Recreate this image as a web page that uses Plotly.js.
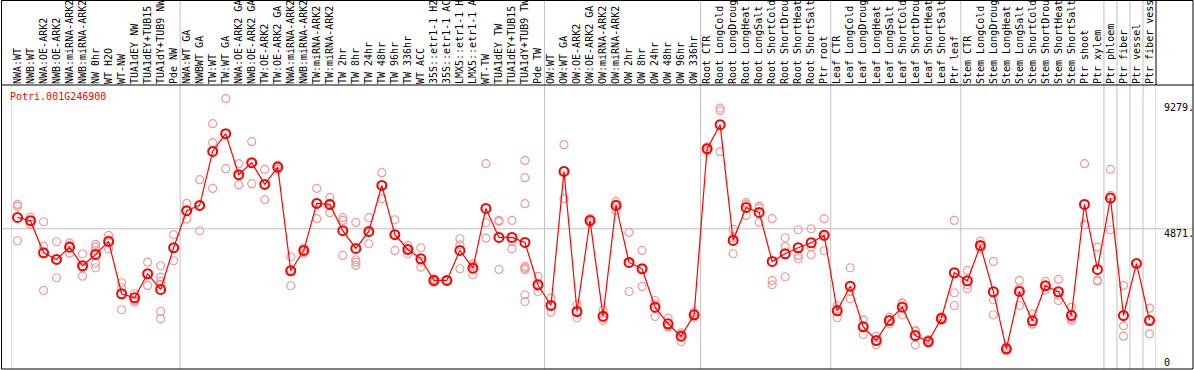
<!DOCTYPE html>
<html>
<head>
<meta charset="utf-8">
<script src="https://cdn.plot.ly/plotly-3.0.1.min.js"></script>
<style>html,body{margin:0;padding:0;background:#fff;}#chart{width:1194px;height:370px;}</style>
</head>
<body>
<div id="chart"></div>
<script>
var chartTitle = "Potri.001G246900";

// category labels as printed (the source truncates them to 14 characters)
var categories = [
  "NWA:WT","NWB:WT","NWA:OE-ARK2","NWB:OE-ARK2","NWA:miRNA-ARK2","NWB:miRNA-ARK2","NW 0hr","WT H2O","WT-NW","TUA1dEY NW","TUA1dEY+TUB15","TUA1dY+TUB9 NW","Pde NW",
  "NWA:WT GA","NWBWT GA","TW:WT","TW:WT GA","NWA:OE-ARK2 GA","NWB:OE-ARK2 GA","TW:OE-ARK2","TW:OE-ARK2 GA","NWA:miRNA-ARK2","NWB:miRNA-ARK2","TW:miRNA-ARK2","TW:miRNA-ARK2",
  "TW 2hr","TW 8hr","TW 24hr","TW 48hr","TW 96hr","TW 336hr","WT ACC","35S::etr1-1 H2","35S::etr1-1 AC","LMX5::etr1-1 H","LMX5::etr1-1 A","WT-TW","TUA1dEY TW","TUA1dEY+TUB15","TUA1dY+TUB9 TW","Pde TW",
  "OW:WT","OW:WT GA","OW:OE-ARK2","OW:OE-ARK2 GA","OW:miRNA-ARK2","OW:miRNA-ARK2","OW 2hr","OW 8hr","OW 24hr","OW 48hr","OW 96hr","OW 336hr",
  "Root CTR","Root LongCold","Root LongDroug","Root LongHeat","Root LongSalt","Root ShortCold","Root ShortDrou","Root ShortHeat","Root ShortSalt","Ptr root",
  "Leaf CTR","Leaf LongCold","Leaf LongDroug","Leaf LongHeat","Leaf LongSalt","Leaf ShortCold","Leaf ShortDrou","Leaf ShortHeat","Leaf ShortSalt","Ptr leaf",
  "Stem CTR","Stem LongCold","Stem LongDroug","Stem LongHeat","Stem LongSalt","Stem ShortCold","Stem ShortDrou","Stem ShortHeat","Stem ShortSalt","Ptr shoot","Ptr xylem",
  "Ptr phloem","Ptr fiber","Ptr vessel","Ptr fiber vess"
];

var meanValues = [
  5268,5152,4032,3797,4228,3577,3972,4428,2597,2457,3297,2747,4207,
  5502,5687,7577,8197,6762,7182,6422,7028,3402,4112,5757,5722,4802,4182,4777,6387,4662,4147,3822,3062,3062,4112,3493,5582,4567,4567,4392,2912,
  2187,6877,1977,5162,1813,5687,3692,3472,2128,1547,1113,1862,
  7672,8512,4462,5617,5442,3727,3997,4207,4382,4648,
  2002,2863,1442,962,1662,2128,1137,927,1732,3332,
  3052,4287,2667,672,2677,1652,2877,2667,1837,5722,3447,
  5943,1837,3657,1662
];

var replicateValues = [
  [5722,5652,4452],[5278,5156,5022],[5117,4263,2712],[4417,3800,3157],[4378,4288,4018],[3997,3521,3213],
  [4322,4228,4100,3668,3507],[4638,4474,4172],[2982,2807,2037],[2597,2362,2300],[3703,3297,2887],
  [3577,3178,3027,2922,1977,1722],[4662,4207,3752],
  [5757,5502,5208],[6587,5687,4802],[8547,7882,6282],[9422,8197,6972],[7147,6727,6412],[7927,7172,6447],
  [6947,6432,5887],[7100,7028,6956],[3892,3437,2877],[4207,4112,4018],[6282,5767,5222],[5967,5767,5432],
  [5257,5162,3937],[5092,3787,3703,3587],[5257,4727,4347],[6832,6407,5922],[5187,4687,4112],[4287,4157,3997],
  [4207,3731,3528],[3120,3062,3003],[3080,3062,3045],[4522,4312,3472],[3647,3570,3262],[7147,5082,4543],
  [5162,5127,3447],[5162,4427,4172],[7262,6657,5747,3552,3493,3437,2562,2327],[3202,2857,2677],
  [2443,2165,1953],[7812,6897,5922],[2222,1952,1757],[5230,5162,5094],[2030,1743,1662],[5827,5732,5502],
  [4742,3657,2677],[4112,3452,2852],[2362,2220,1802],[1743,1470,1428],[1232,1180,927],[1950,1862,1775],
  [7740,7672,7604],[9093,9002,7567],[4847,4542,3997],[5782,5722,5337],[5663,5593,5103],[5222,3062,2912],
  [4557,4242,3192],[4837,3937,3822],[4872,4242,3962],[5222,4592,4102],
  [2187,2062,1757],[3507,2677,2422],[1687,1467,1172],[1113,961,812],[1778,1662,1546],[2275,2247,1862],
  [1312,1287,812],[990,927,864],[1800,1732,1664],[5162,2632,2187],
  [3412,2912,2772],[4438,4251,4172],[3727,2387,1862],[740,672,604],[3062,2772,2187],[1883,1540,1533],
  [3027,2881,2723],[3097,2542,2362],[2128,1722,1662],[7147,5012,5007],[4228,3075,3038],
  [6947,6037,4837],[2887,1477,1113],[3657],[2093,1697,1197]
];

var groupSeparators = [12.5, 40.5, 52.5, 62.5, 72.5, 83.5, 84.5, 85.5, 86.5];
var yTickValues = [9279, 4871, 0];
var yTickLabels = ["9279.", "4871.", "0"];

// ---- layout geometry (pixels) ----
var W = 1194, H = 370;
var M = {l: 11, r: 38, t: 85, b: 2};
var PW = W - M.l - M.r, PH = H - M.t - M.b;
function px(x) { return (x - M.l) / PW; }
function py(y) { return (H - M.b - y) / PH; }

var idx = categories.map(function (_, i) { return i; });
var repX = [], repY = [];
replicateValues.forEach(function (arr, i) {
  arr.forEach(function (v) { repX.push(i); repY.push(v); });
});

var mono = "DejaVu Sans Mono, Liberation Mono, monospace";
var gray = "#c0c0c0";

var traces = [
  {
    x: repX, y: repY, type: "scatter", mode: "markers",
    marker: {symbol: "circle-open", size: 8, color: "#f09a9a", line: {width: 1.2}},
    hoverinfo: "skip", cliponaxis: false
  },
  {
    x: idx, y: meanValues, type: "scatter", mode: "lines+markers",
    line: {color: "#ff0000", width: 1.2},
    marker: {symbol: "circle-open", size: 9, color: "#ff0000", line: {width: 2}},
    cliponaxis: false
  }
];

var shapes = [];
groupSeparators.forEach(function (s) {
  shapes.push({type: "line", xref: "x", yref: "paper", x0: s, x1: s, y0: py(369), y1: py(0),
    line: {color: gray, width: 1}, layer: "below"});
});
[-0.5, 87.5].forEach(function (s) {
  shapes.push({type: "line", xref: "x", yref: "paper", x0: s, x1: s, y0: py(369), y1: py(85),
    line: {color: gray, width: 1}, layer: "below"});
});
shapes.push({type: "line", xref: "paper", yref: "y", x0: px(1.5), x1: px(1193), y0: yTickValues[1], y1: yTickValues[1],
  line: {color: gray, width: 1}, layer: "below"});
// black frame
shapes.push({type: "rect", xref: "paper", yref: "paper", x0: px(1.5), x1: px(1193), y0: py(369), y1: py(0.5),
  line: {color: "#000", width: 1}, fillcolor: "rgba(0,0,0,0)", layer: "above"});
shapes.push({type: "line", xref: "paper", yref: "paper", x0: px(1.5), x1: px(1193), y0: py(85), y1: py(85),
  line: {color: "#000", width: 1}, layer: "above"});
shapes.push({type: "line", xref: "paper", yref: "paper", x0: px(1156), x1: px(1156), y0: py(85), y1: py(0.5),
  line: {color: "#000", width: 1}, layer: "above"});

var annotations = [
  {text: chartTitle, xref: "paper", yref: "paper", x: px(8), y: py(96.7), xanchor: "left", yanchor: "middle",
   showarrow: false, font: {family: mono, size: 10, color: "#ff0000"}}
];
annotations.push({text: yTickLabels[0], xref: "paper", yref: "y", x: px(1162), y: yTickValues[0], xanchor: "left", yanchor: "top",
  yshift: 3, showarrow: false, font: {family: mono, size: 10, color: "#000"}});
annotations.push({text: yTickLabels[1], xref: "paper", yref: "y", x: px(1162), y: yTickValues[1], xanchor: "left", yanchor: "top",
  yshift: 3, showarrow: false, font: {family: mono, size: 10, color: "#000"}});
annotations.push({text: yTickLabels[2], xref: "paper", yref: "paper", x: px(1162), y: py(362), xanchor: "left", yanchor: "middle",
  showarrow: false, font: {family: mono, size: 10, color: "#000"}});

var layout = {
  width: W, height: H,
  margin: M,
  paper_bgcolor: "#fff", plot_bgcolor: "#fff",
  showlegend: false,
  xaxis: {
    range: [-0.5, 87.5], side: "top", tickmode: "array", tickvals: idx, ticktext: categories,
    tickangle: -90, ticks: "", showgrid: false, zeroline: false, showline: false,
    tickfont: {family: mono, size: 10, color: "#000"}, fixedrange: true
  },
  yaxis: {
    range: [0, 9900], showticklabels: false, showgrid: false, zeroline: false, showline: false, fixedrange: true
  },
  shapes: shapes,
  annotations: annotations
};

Plotly.newPlot("chart", traces, layout, {displayModeBar: false, staticPlot: true});
</script>
</body>
</html>
